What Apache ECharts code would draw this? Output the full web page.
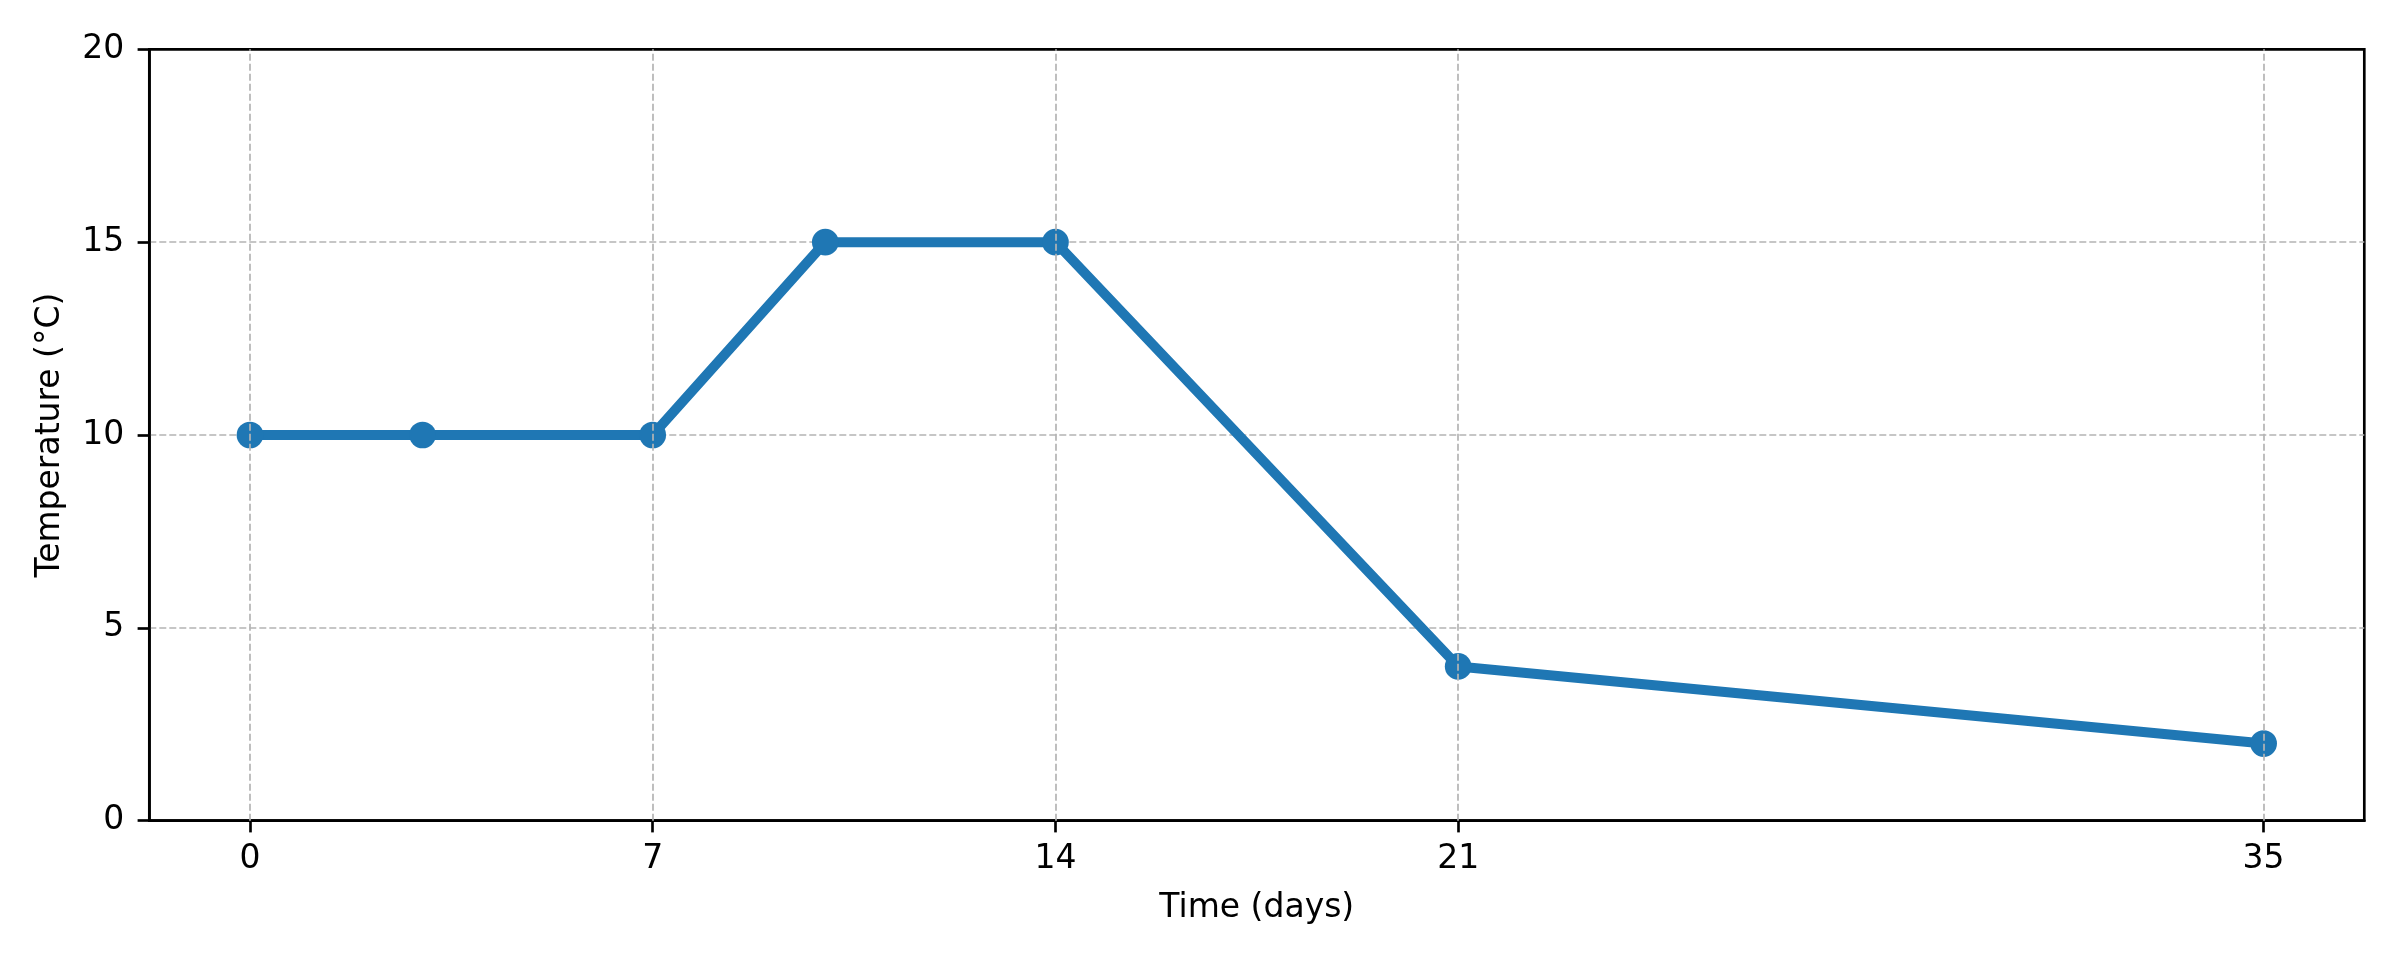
<!DOCTYPE html>
<html>
<head>
<meta charset="utf-8">
<script src="https://cdn.jsdelivr.net/npm/echarts@6/dist/echarts.min.js"></script>
<style>
html,body{margin:0;padding:0;background:#fff;}
#chart{width:2400px;height:960px;}
</style>
</head>
<body>
<div id="chart"></div>
<script>
const days = [0, 3, 7, 10, 14, 21, 35];
const temps = [10, 10, 10, 15, 15, 4, 2];
const xTicks = [0, 7, 14, 21, 35];
const xLabel = 'Time (days)';
const yLabel = 'Temperature (°C)';

const FONT = '"DejaVu Sans", sans-serif';
const chart = echarts.init(document.getElementById('chart'), null, {renderer: 'canvas'});
const gridStyle = {color: '#b4b4b4', width: 1.7, type: [7, 3]};

chart.setOption({
  animation: false,
  backgroundColor: '#ffffff',
  grid: {
    left: 149.3, right: 35.7, top: 49.3, bottom: 139.3,
    show: true, borderColor: '#000', borderWidth: 2.67, backgroundColor: 'transparent'
  },
  xAxis: {
    type: 'value',
    min: -1.75, max: 36.75,
    name: xLabel,
    nameLocation: 'middle',
    nameGap: 71,
    nameTextStyle: {fontFamily: FONT, fontSize: 33, color: '#000'},
    axisLine: {show: true, onZero: false, lineStyle: {color: '#000', width: 2.67}},
    axisTick: {show: true, inside: false, length: 11.7, customValues: xTicks, lineStyle: {color: '#000', width: 2.67}},
    axisLabel: {show: true, margin: 22, customValues: xTicks, fontFamily: FONT, fontSize: 33, color: '#000'},
    splitLine: {show: false}
  },
  yAxis: {
    type: 'value',
    min: 0, max: 20, interval: 5,
    name: yLabel,
    nameLocation: 'middle',
    nameGap: 82,
    nameTextStyle: {fontFamily: FONT, fontSize: 33, color: '#000'},
    axisLine: {show: true, onZero: false, lineStyle: {color: '#000', width: 2.67}},
    axisTick: {show: true, inside: false, length: 11.7, lineStyle: {color: '#000', width: 2.67}},
    axisLabel: {show: true, margin: 25, padding: [6, 0, 0, 0], fontFamily: FONT, fontSize: 33, color: '#000'},
    splitLine: {show: true, showMinLine: false, showMaxLine: false, lineStyle: gridStyle}
  },
  series: [{
    type: 'line',
    data: days.map((d, i) => [d, temps[i]]),
    symbol: 'circle',
    symbolSize: 26.7,
    showSymbol: true,
    lineStyle: {color: '#1f77b4', width: 10},
    itemStyle: {color: '#1f77b4'},
    z: 3,
    markLine: {
      silent: true,
      symbol: ['none', 'none'],
      label: {show: false},
      lineStyle: gridStyle,
      data: xTicks.map(v => ({xAxis: v}))
    }
  }]
});
</script>
</body>
</html>
